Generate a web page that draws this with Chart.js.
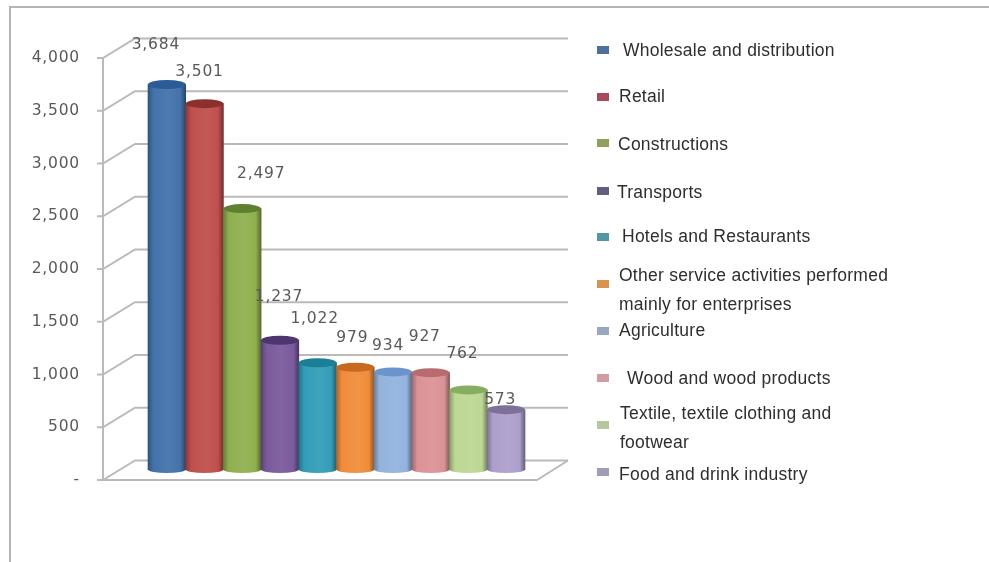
<!DOCTYPE html>
<html>
<head>
<meta charset="utf-8">
<title>Enterprises by sector</title>
<script src="https://cdn.jsdelivr.net/npm/chart.js@4"></script>
<style>
  html, body { margin: 0; padding: 0; background: #fff; }
  #wrap { position: relative; width: 989px; height: 562px; overflow: hidden; }
  #frame { position: absolute; left: 9px; top: 6px; right: -4px; bottom: -4px;
           border: 2px solid #b4b4b4; }
  canvas { position: absolute; left: 0; top: 0; }
  .swatch { position: absolute; left: 597px; width: 12px; height: 8px; }
  .entry { position: absolute; font: 17.5px/28.5px "Liberation Sans", Arial, sans-serif;
           letter-spacing: 0.25px; color: #2e2e2e; transform: translateY(-50%); }
</style>
</head>
<body>
<div id="wrap">
  <div id="frame"></div>
  <canvas id="chart" width="989" height="562"></canvas>
  <div id="legend"></div>
</div>
<script>
const categories = [
  'Wholesale and distribution', 'Retail', 'Constructions', 'Transports',
  'Hotels and Restaurants', 'Other service activities performed mainly for enterprises',
  'Agriculture', 'Wood and wood products', 'Textile, textile clothing and footwear',
  'Food and drink industry'
];
const values = [3684, 3501, 2497, 1237, 1022, 979, 934, 927, 762, 573];

const bodyColors = ['#4373aa', '#bf4f4c', '#8fb04f', '#7a5a9c', '#339db8', '#f08c3a', '#93b3de', '#db9296', '#bcd893', '#ad9fcb'];
const capColors = ['#2a5c98', '#8e2f2f', '#5f8030', '#4e3570', '#1d7f96', '#c76a20', '#6c94cc', '#b96c70', '#86ad60', '#7d7099'];
const legendColors = ['#4f6f9f', '#a94a5c', '#8f9f5c', '#655c80', '#4f98a4', '#d9934e', '#98a8c0', '#cf9ca4', '#b6c79e', '#a29cb8'];

// label position relative to the top of each cylinder
const labelDx = [-11, -5, 19, -1, -3, -3, -5, -6, -6, -6];
const labelDy = [-40, -32, -35, -43, -44, -29, -26, -36, -36, -10];

// legend rows: swatch centre y, text left, text centre y, text box width
const legendRows = [
  [50, 623, 50, 260], [97, 619, 96, 260], [143, 618, 144, 260], [191, 617, 192, 260],
  [237, 622, 236, 260], [284, 619, 289, 285], [331, 619, 330, 260], [378, 627, 378, 260],
  [425, 620, 427, 225], [472, 619, 474, 260]
];

const GRID = '#bababa';
const DEPTH_X = 32, DEPTH_Y = 19.5;
const AXIS_X = 103, WALL_END = 568, FLOOR_END = 537;
const LABEL_FONT = '15.5px "DejaVu Sans", sans-serif';

function shade(hex, f) {
  const n = parseInt(hex.slice(1), 16);
  const c = [n >> 16, (n >> 8) & 255, n & 255].map(v => Math.min(255, Math.round(f < 1 ? v * f : v + (255 - v) * (f - 1))));
  return `rgb(${c[0]},${c[1]},${c[2]})`;
}

function cylinderFill(ctx) {
  const chart = ctx.chart;
  if (!chart.chartArea || ctx.dataIndex === undefined) return bodyColors[0];
  const x = chart.scales.x;
  const w = x.getPixelForValue(1) - x.getPixelForValue(0);
  const cx = x.getPixelForValue(ctx.dataIndex);
  const base = bodyColors[ctx.dataIndex];
  const g = chart.ctx.createLinearGradient(cx - w / 2, 0, cx + w / 2, 0);
  g.addColorStop(0, shade(base, 0.72));
  g.addColorStop(0.14, base);
  g.addColorStop(0.55, shade(base, 1.06));
  g.addColorStop(0.86, base);
  g.addColorStop(1, shade(base, 0.6));
  return g;
}

// walls, floor and front axis of the 3D box
const boxPlugin = {
  id: 'box',
  beforeDraw(chart) {
    chart.ctx.letterSpacing = '0.8px';
  },
  beforeDatasetsDraw(chart) {
    const { ctx, scales: { y } } = chart;
    const bottom = y.getPixelForValue(0);
    ctx.save();
    ctx.strokeStyle = GRID;
    ctx.lineWidth = 2;
    y.ticks.forEach(t => {
      const py = y.getPixelForValue(t.value);
      ctx.beginPath();
      ctx.moveTo(AXIS_X - 6, py);
      ctx.lineTo(AXIS_X, py);
      ctx.lineTo(AXIS_X + DEPTH_X, py - DEPTH_Y);
      ctx.lineTo(WALL_END, py - DEPTH_Y);
      ctx.stroke();
    });
    ctx.beginPath();
    ctx.moveTo(AXIS_X, y.getPixelForValue(4000));
    ctx.lineTo(AXIS_X, bottom);
    ctx.lineTo(FLOOR_END, bottom);
    ctx.lineTo(WALL_END, bottom - DEPTH_Y);
    ctx.stroke();
    ctx.restore();
  },
  afterDatasetsDraw(chart) {
    const { ctx } = chart;
    const bars = chart.getDatasetMeta(0).data;
    ctx.save();
    bars.forEach((bar, i) => {
      const rx = bar.width / 2;
      ctx.fillStyle = bar.options.backgroundColor;
      ctx.beginPath();
      ctx.ellipse(bar.x, bar.base, rx, 3.5, 0, 0, Math.PI);
      ctx.fill();
      ctx.fillStyle = capColors[i];
      ctx.beginPath();
      ctx.ellipse(bar.x, bar.y, rx, 4.5, 0, 0, Math.PI * 2);
      ctx.fill();
    });
    ctx.font = LABEL_FONT;
    ctx.fillStyle = '#595959';
    ctx.textAlign = 'center';
    ctx.textBaseline = 'middle';
    bars.forEach((bar, i) => {
      ctx.fillText(values[i].toLocaleString('en-US'), bar.x + labelDx[i], bar.y + labelDy[i]);
    });
    ctx.restore();
  }
};

new Chart(document.getElementById('chart'), {
  type: 'bar',
  plugins: [boxPlugin],
  data: {
    labels: categories,
    datasets: [{
      data: values,
      yAxisID: 'yBars',
      backgroundColor: cylinderFill,
      barPercentage: 1,
      categoryPercentage: 1,
      clip: false
    }]
  },
  options: {
    responsive: false,
    animation: false,
    layout: { padding: { top: 58, right: 464, bottom: 82, left: 0 } },
    plugins: { legend: { display: false }, tooltip: { enabled: false } },
    scales: {
      x: { display: false },
      // front axis with its labels
      y: {
        min: 0,
        max: 4000,
        afterFit: s => { s.width = 148; s.paddingTop = 0; s.paddingBottom = 0; },
        border: { display: false },
        grid: { display: false, drawTicks: false },
        ticks: {
          stepSize: 500,
          padding: 68,
          color: '#595959',
          font: { family: '"DejaVu Sans", sans-serif', size: 15.5 },
          callback: v => (v === 0 ? '-' : v.toLocaleString('en-US'))
        }
      },
      // cylinders stand slightly behind the front axis
      yBars: { display: false, min: -100, max: 3938 }
    }
  }
});

const legend = document.getElementById('legend');
categories.forEach((name, i) => {
  const [swatchY, textX, textY, boxW] = legendRows[i];
  const s = document.createElement('div');
  s.className = 'swatch';
  s.style.top = (swatchY - 4) + 'px';
  s.style.background = legendColors[i];
  const t = document.createElement('div');
  t.className = 'entry';
  t.textContent = name;
  t.style.left = textX + 'px';
  t.style.top = textY + 'px';
  t.style.width = boxW + 'px';
  legend.append(s, t);
});
</script>
</body>
</html>
